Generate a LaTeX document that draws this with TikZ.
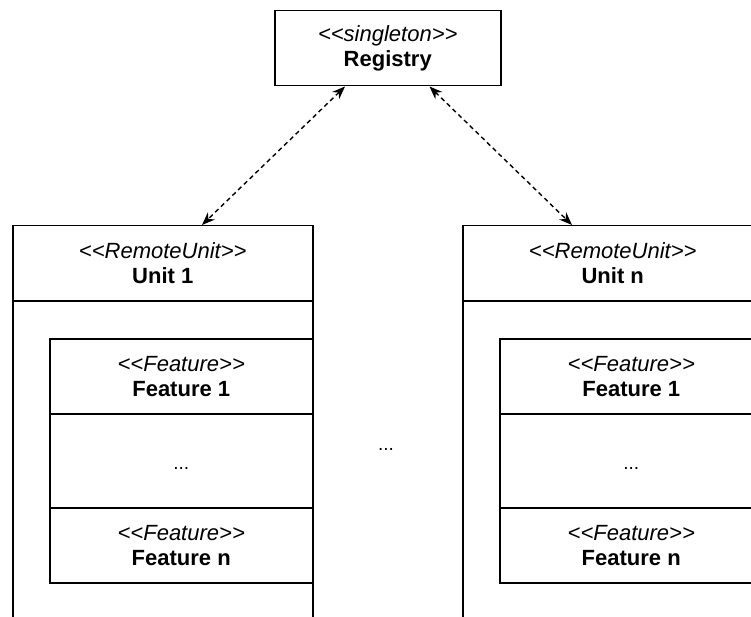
\documentclass[tikz,border=0pt]{standalone}
\usepackage{fontspec}
\setmainfont{Liberation Sans}
\usetikzlibrary{arrows.meta}
\newcommand\opG{<\kern0pt<}
\newcommand\clG{>\kern0pt>}
\begin{document}
\begin{tikzpicture}[x=1pt,y=-1pt,
  box/.style={draw,line width=1.5pt,rectangle,inner sep=0pt,anchor=north west,align=center,font=\fontsize{22}{25}\selectfont},
  unitbox/.style={box,minimum width=300pt},
  featbox/.style={box,minimum width=263pt},
  dotstxt/.style={inner sep=0pt,anchor=base,font=\fontsize{19}{22}\selectfont},
  link/.style={line width=1.4pt,dash pattern=on 4.5pt off 3.5pt,{Stealth[length=13pt,width=10pt]}-{Stealth[length=13pt,width=10pt]}}]
\useasboundingbox (0,0) rectangle (751,617);
\clip (0,0) rectangle (751,617);
\node[box,minimum width=226pt,minimum height=75pt] (reg) at (274,10) {\textit{\opG singleton\clG}\\\textbf{Registry}};
% Unit 1
\node[unitbox,minimum height=360pt] (u1) at (12,300) {};
\node[unitbox,minimum height=75pt] (u1h) at (12,225) {\textit{\opG RemoteUnit\clG}\\\textbf{Unit 1}};
\node[featbox,minimum height=75pt] (f11) at (49,338) {\textit{\opG Feature\clG}\\\textbf{Feature 1}};
\node[featbox,minimum height=94pt] (fd1) at (49,413) {};
\node[featbox,minimum height=75pt] (f1n) at (49,507) {\textit{\opG Feature\clG}\\\textbf{Feature n}};
\node[dotstxt] (d1) at ([yshift=-9pt]fd1.center) {...};
% Unit n
\node[unitbox,minimum height=360pt] (un) at (462,300) {};
\node[unitbox,minimum height=75pt] (unh) at (462,225) {\textit{\opG RemoteUnit\clG}\\\textbf{Unit n}};
\node[featbox,minimum height=75pt] (fn1) at (499,338) {\textit{\opG Feature\clG}\\\textbf{Feature 1}};
\node[featbox,minimum height=94pt] (fdn) at (499,413) {};
\node[featbox,minimum height=75pt] (fnn) at (499,507) {\textit{\opG Feature\clG}\\\textbf{Feature n}};
\node[dotstxt] (dn) at ([yshift=-9pt]fdn.center) {...};
% middle dots
\node[dotstxt] (mid) at (386,450) {...};
% links
\draw[link] ([xshift=71pt]reg.south west) -- ([xshift=190pt]u1h.north west);
\draw[link] ([xshift=-72pt]reg.south east) -- ([xshift=110pt]unh.north west);
\end{tikzpicture}
\end{document}
